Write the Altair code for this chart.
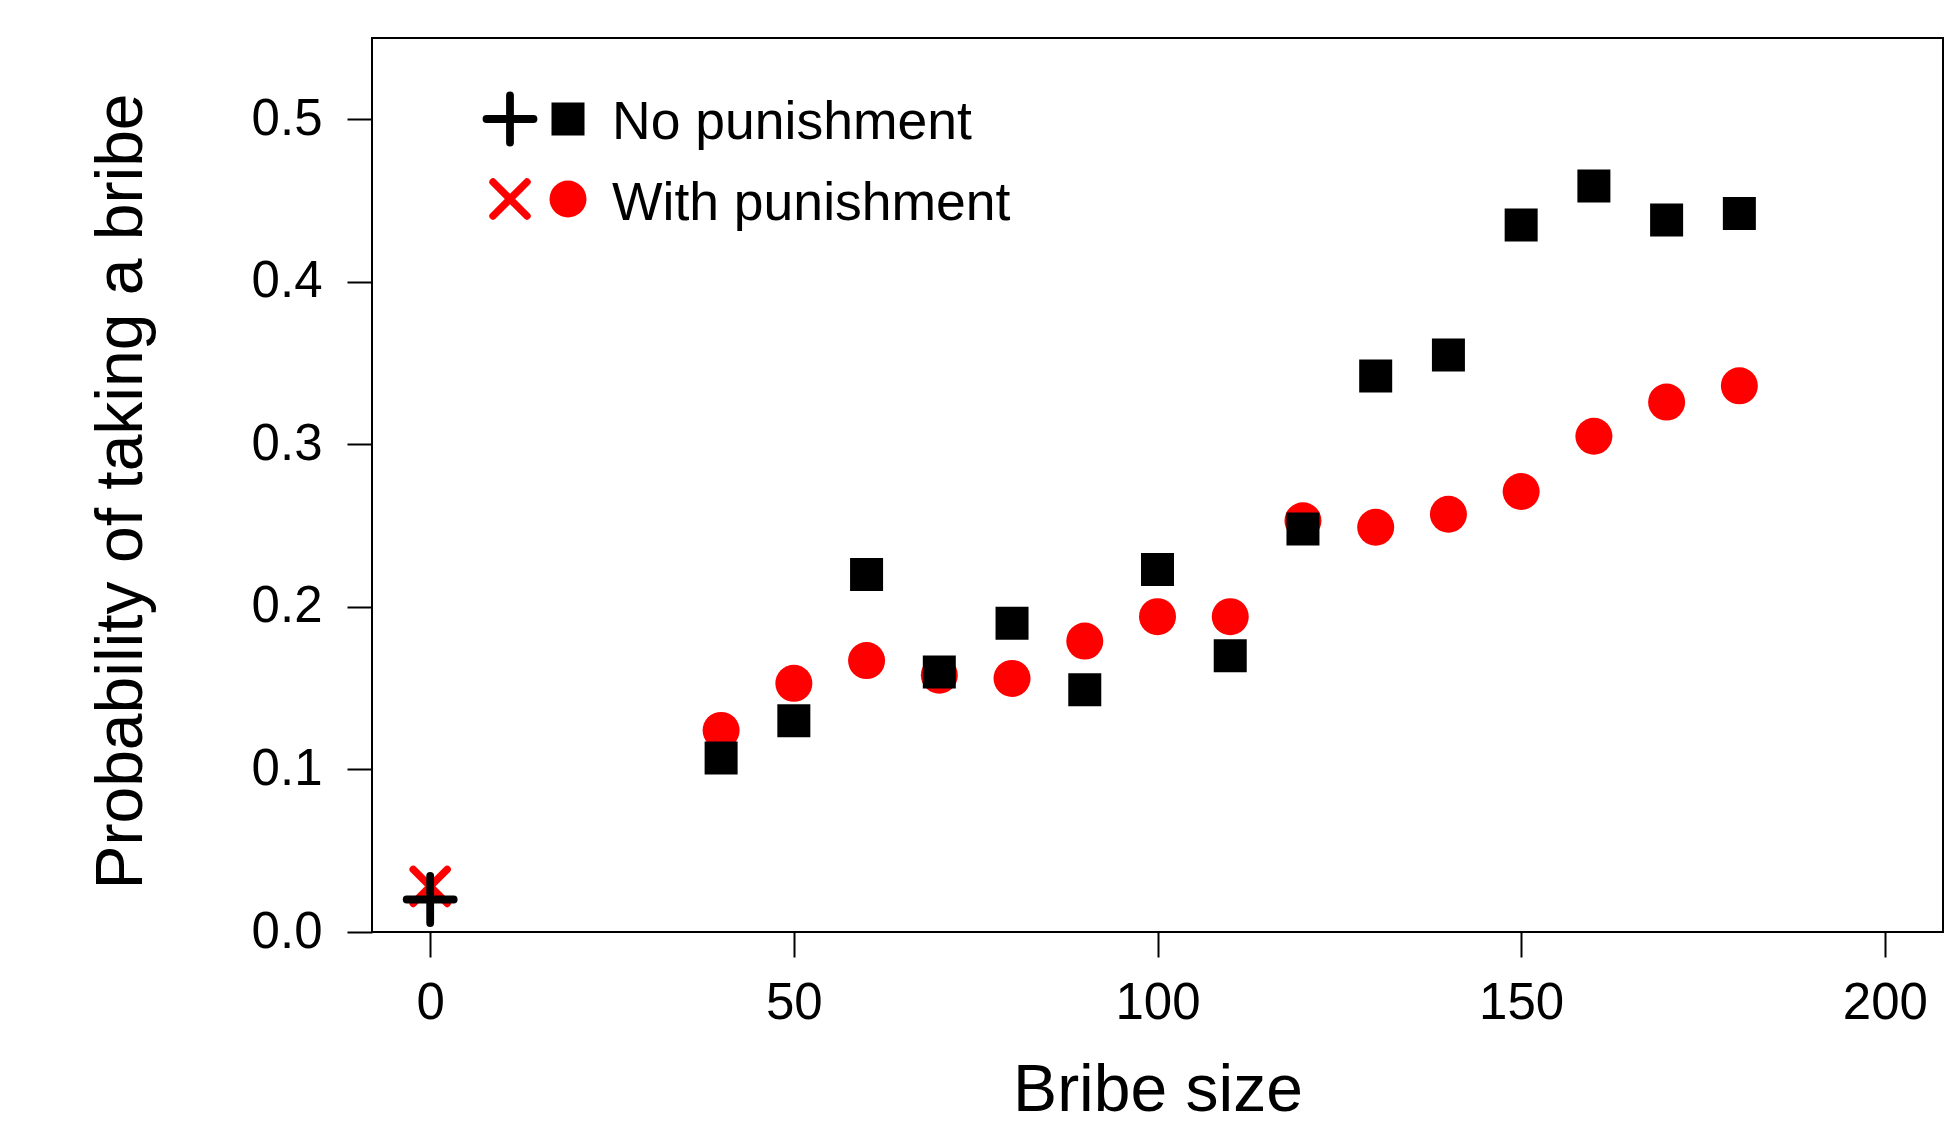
import altair as alt
import pandas as pd

# ---- data ----
bribe = [0, 40, 50, 60, 70, 80, 90, 100, 110, 120, 130, 140, 150, 160, 170, 180]
no_punishment = [0.020, 0.107, 0.130, 0.220, 0.160, 0.190, 0.149, 0.223, 0.170,
                 0.248, 0.342, 0.355, 0.435, 0.459, 0.438, 0.442]
with_punishment = [0.028, 0.124, 0.153, 0.167, 0.158, 0.156, 0.179, 0.194, 0.194,
                   0.253, 0.249, 0.257, 0.271, 0.305, 0.326, 0.336]
series = ["No punishment", "With punishment"]
x_ticks = [0, 50, 100, 150, 200]
y_ticks = [0.0, 0.1, 0.2, 0.3, 0.4, 0.5]
x_title = "Bribe size"
y_title = "Probability of taking a bribe"

df = pd.DataFrame({
    "bribe": bribe + bribe,
    "prob": no_punishment + with_punishment,
    "group": [series[0]] * len(bribe) + [series[1]] * len(bribe),
})
leg_df = pd.DataFrame({"label": series})

FONT = "Liberation Sans"
BLACK = "#000000"
RED = "#FF0000"
SW_PLUS = 7.8
SW_X = 7.4
P = 23.5  # half arm of "+" (px)
Q = 17    # half extent of "x" (px)

W, H = 1571, 894

common_axis = dict(
    grid=False, domain=False, labelFont=FONT, titleFont=FONT, labelColor=BLACK,
    titleColor=BLACK, tickColor=BLACK, titleFontWeight="normal", labelFontWeight="normal",
    labelFontSize=51, tickSize=25, tickWidth=2, labelFlush=False, labelOverlap=False,
    titleFontSize=66, titleBaseline="alphabetic",
)

xs = alt.Scale(domain=[-8, 208], nice=False, zero=False)
ys = alt.Scale(domain=[0, 0.55], nice=False, zero=False)
x_enc = alt.X("bribe:Q", scale=xs,
              axis=alt.Axis(values=x_ticks, title=x_title, labelBaseline="alphabetic",
                            labelPadding=61, titleY=178, **common_axis))
y_enc = alt.Y("prob:Q", scale=ys,
              axis=alt.Axis(values=y_ticks, format=".1f", title=y_title, labelPadding=25,
                            titleAngle=270, titleAlign="center", titleX=-231, titleY=453,
                            **common_axis))

base = alt.Chart(df)
is_with = alt.datum.group == series[1]
is_no = alt.datum.group == series[0]


def seg(chart, color, sw, dx1, dy1, dx2, dy2):
    return chart.mark_rule(color=color, strokeWidth=sw, strokeCap="round", opacity=1,
                           xOffset=dx1, yOffset=dy1, x2Offset=dx2, y2Offset=dy2).encode(
        x=x_enc, y=y_enc, x2="bribe:Q", y2="prob:Q")


red_circles = base.transform_filter(is_with & (alt.datum.bribe > 0)).mark_point(
    shape="circle", filled=True, size=1369, color=RED, opacity=1, strokeWidth=0
).encode(x=x_enc, y=y_enc)
red0 = base.transform_filter(is_with & (alt.datum.bribe == 0))
red_x = [seg(red0, RED, SW_X, -Q, -Q, Q, Q), seg(red0, RED, SW_X, -Q, Q, Q, -Q)]
black_sq = base.transform_filter(is_no & (alt.datum.bribe > 0)).mark_point(
    shape="square", filled=True, size=1089, color=BLACK, opacity=1, strokeWidth=0
).encode(x=x_enc, y=y_enc)
black0 = base.transform_filter(is_no & (alt.datum.bribe == 0))
black_plus = [seg(black0, BLACK, SW_PLUS, -P, 0, P, 0), seg(black0, BLACK, SW_PLUS, 0, -P, 0, P)]

# ---- manual legend (two symbols per entry, as in the reference) ----
leg = alt.Chart(leg_df)
sym_x = 138
box_x = 196
txt_x = 240
row_y = [81, 161]
text_y = [101, 182]


def lseg(chart, color, sw, x1, y1, x2, y2):
    return chart.mark_rule(color=color, strokeWidth=sw, strokeCap="round").encode(
        x=alt.value(x1), y=alt.value(y1), x2=alt.value(x2), y2=alt.value(y2))


leg_layers = []
for i, lab in enumerate(series):
    sel = leg.transform_filter(alt.datum.label == lab)
    cy = row_y[i]
    if i == 0:
        leg_layers += [lseg(sel, BLACK, SW_PLUS, sym_x - P, cy, sym_x + P, cy),
                       lseg(sel, BLACK, SW_PLUS, sym_x, cy - P, sym_x, cy + P)]
        leg_layers.append(sel.mark_point(shape="square", filled=True, size=1089, color=BLACK,
                                         opacity=1, strokeWidth=0)
                          .encode(x=alt.value(box_x), y=alt.value(cy)))
    else:
        leg_layers += [lseg(sel, RED, SW_X, sym_x - Q, cy - Q, sym_x + Q, cy + Q),
                       lseg(sel, RED, SW_X, sym_x - Q, cy + Q, sym_x + Q, cy - Q)]
        leg_layers.append(sel.mark_point(shape="circle", filled=True, size=1369, color=RED,
                                         opacity=1, strokeWidth=0)
                          .encode(x=alt.value(box_x), y=alt.value(cy)))
    leg_layers.append(sel.mark_text(align="left", baseline="alphabetic", fontSize=53.5,
                                    font=FONT, color=BLACK)
                      .encode(x=alt.value(txt_x), y=alt.value(text_y[i]), text="label:N"))

chart = alt.layer(red_circles, *red_x, black_sq, *black_plus, *leg_layers).properties(
    width=W, height=H,
    background="white",
    autosize=alt.AutoSizeParams(type="none"),
    padding={"left": 364, "top": 30, "right": 5, "bottom": 192},
).configure_view(
    stroke=BLACK, strokeWidth=2, fill="white"
)

chart.save("out.html", embed_options={"renderer": "svg", "actions": False})
